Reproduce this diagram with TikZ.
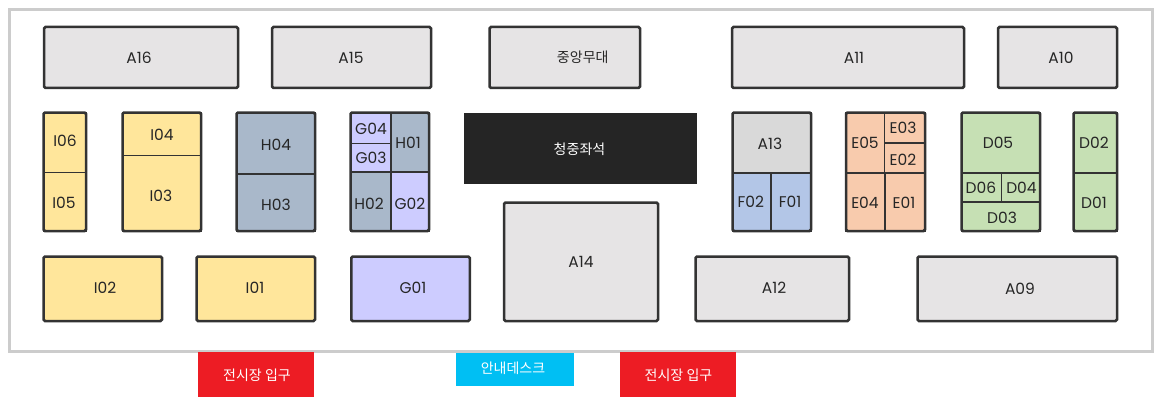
\documentclass[tikz,border=0pt]{standalone}
\usepackage{fontspec}
\usepackage{tikz}
\usetikzlibrary{positioning}
\setmainfont{Poppins}
\newfontfamily\korfont{Noto Sans CJK KR}
\definecolor{boothline}{HTML}{333333}
\definecolor{boothgray}{HTML}{E6E4E5}
\definecolor{darkgray}{HTML}{D9D9D9}
\definecolor{boothyellow}{HTML}{FFE69B}
\definecolor{boothslate}{HTML}{A9B8CA}
\definecolor{boothviolet}{HTML}{CDCCFF}
\definecolor{boothblue}{HTML}{B3C6E7}
\definecolor{boothorange}{HTML}{F8CBAD}
\definecolor{boothgreen}{HTML}{C6E0B4}
\definecolor{seatblack}{HTML}{252525}
\definecolor{gatered}{HTML}{ED1C24}
\definecolor{deskblue}{HTML}{00BFF3}

\begin{document}
\begin{tikzpicture}[x=1pt,y=-1pt,node distance=0pt,
                    booth/.style={rectangle,draw=boothline,line width=2pt,
                      inner sep=0pt,outer sep=0pt},
                    cell/.style={booth,line width=1.5pt},
                    stall/.style={booth,line width=2.5pt,rounded corners=1.5pt},
                    outline/.style={draw=boothline,line width=2.5pt,rounded corners=1.5pt},
                    tag/.style n args={3}{label={[shift={(#1,#2)},inner sep=0pt,text=black!85,
                      font=\fontsize{15.5}{18}\selectfont]center:#3}},
                    kortag/.style n args={4}{label={[shift={(#1,#2)},inner sep=0pt,text=#3,
                      font=\korfont\fontsize{14}{16}\selectfont]center:#4}},
                    sign/.style={rectangle,inner sep=0pt,outer sep=0pt}]

  \useasboundingbox (0,0) rectangle (1160,404);
  \fill[white] (0,0) rectangle (1160,404);
  \coordinate (hallnw) at (9.5,9.5);
  \coordinate (hallse) at (1152.5,351.5);
  \draw[black!20,line width=3pt] (hallnw) rectangle (hallse);

  % top row
  \node[stall,fill=boothgray,minimum width=194,minimum height=61,tag={-2}{0.5}{A16}] (a16) at (141,57.5) {};
  \node[stall,fill=boothgray,minimum width=159,minimum height=61,tag={-0.5}{0.5}{A15}] (a15) at (351.5,57.5) {};
  \node[stall,fill=boothgray,minimum width=150.5,minimum height=61,kortag={18}{-0.5}{black!85}{중앙무대}] (stage) at (564.75,57.5) {};
  \node[stall,fill=boothgray,minimum width=232,minimum height=61,tag={6}{0.5}{A11}] (a11) at (848,57.5) {};
  \node[stall,fill=boothgray,minimum width=119,minimum height=61,tag={3.5}{0.5}{A10}] (a10) at (1057.5,57.5) {};

  % left blocks
  \node[cell,fill=boothyellow,minimum width=42.5,minimum height=60,tag={0.25}{-1.5}{I06}] (i06) at (64.75,142.5) {};
  \node[cell,fill=boothyellow,minimum width=42.5,minimum height=58.5,tag={-0.75}{1.25}{I05}] (i05) [below=of i06] {};
  \draw[outline] (i06.north west) rectangle (i05.south east);
  \node[cell,fill=boothyellow,minimum width=78.5,minimum height=43,tag={0.25}{1}{I04}] (i04) at (161.75,134) {};
  \node[cell,fill=boothyellow,minimum width=78.5,minimum height=75.5,tag={-0.75}{2.75}{I03}] (i03) [below=of i04] {};
  \draw[outline] (i04.north west) rectangle (i03.south east);
  \node[cell,fill=boothslate,minimum width=78.5,minimum height=61.5,tag={0.25}{1.75}{H04}] (h04) at (275.75,143.25) {};
  \node[cell,fill=boothslate,minimum width=78.5,minimum height=57,tag={0.25}{2.5}{H03}] (h03) [below=of h04] {};
  \draw[outline] (h04.north west) rectangle (h03.south east);
  \node[cell,fill=boothviolet,minimum width=40.5,minimum height=31,tag={0.25}{1}{G04}] (g04) at (370.75,128) {};
  \node[cell,fill=boothviolet,minimum width=40.5,minimum height=28.5,tag={0.25}{0.25}{G03}] (g03) [below=of g04] {};
  \node[booth,fill=boothslate,minimum width=38,minimum height=59.5,anchor=north west,tag={-2}{0.75}{H01}] (h01) at (g04.north east) {};
  \node[booth,fill=boothslate,minimum width=40.5,minimum height=59,tag={-1.75}{2.5}{H02}] (h02) [below=of g03] {};
  \node[booth,fill=boothviolet,minimum width=38,minimum height=59,tag={0}{2.5}{G02}] (g02) [right=of h02] {};
  \draw[outline] (g04.north west) rectangle (g02.south east);

  % centre
  \node[sign,fill=seatblack,minimum width=233,minimum height=71,kortag={-1}{0.5}{white}{청중좌석}] (seats) at (580.5,148.5) {};
  \node[stall,fill=boothgray,minimum width=154,minimum height=118.5,tag={0}{0.25}{A14}] (a14) at (581,261.75) {};

  % right blocks
  \node[booth,fill=darkgray,minimum width=78.5,minimum height=60,tag={-1.75}{1.5}{A13}] (a13) at (771.75,142.5) {};
  \node[booth,fill=boothblue,minimum width=38.5,minimum height=58.5,anchor=north west,tag={-1}{0.25}{F02}] (f02) at (a13.south west) {};
  \node[booth,fill=boothblue,minimum width=40,minimum height=58.5,tag={-1}{0.25}{F01}] (f01) [right=of f02] {};
  \draw[outline] (a13.north west) rectangle (f01.south east);
  \node[cell,fill=boothorange,minimum width=38.5,minimum height=60.5,tag={-0.25}{0.25}{E05}] (e05) at (865.25,142.75) {};
  \node[cell,fill=boothorange,minimum width=40.5,minimum height=30.5,anchor=north west,tag={-1.75}{0.25}{E03}] (e03) at (e05.north east) {};
  \node[cell,fill=boothorange,minimum width=40.5,minimum height=30,tag={-1.75}{2}{E02}] (e02) [below=of e03] {};
  \node[booth,fill=boothorange,minimum width=38.5,minimum height=58,tag={-0.25}{1}{E04}] (e04) [below=of e05] {};
  \node[booth,fill=boothorange,minimum width=40.5,minimum height=58,tag={-0.75}{1}{E01}] (e01) [right=of e04] {};
  \draw[outline] (e05.north west) rectangle (e01.south east);
  \node[cell,fill=boothgreen,minimum width=78.5,minimum height=60.5,tag={-2.75}{0.25}{D05}] (d05) at (1000.75,142.75) {};
  \node[cell,fill=boothgreen,minimum width=40,minimum height=29,anchor=north west,tag={-0.5}{0.5}{D06}] (d06) at (d05.south west) {};
  \node[cell,fill=boothgreen,minimum width=38.5,minimum height=29,tag={0.75}{0.5}{D04}] (d04) [right=of d06] {};
  \node[cell,fill=boothgreen,minimum width=78.5,minimum height=29,anchor=north west,tag={1.25}{1.5}{D03}] (d03) at (d06.south west) {};
  \draw[outline] (d05.north west) rectangle (d03.south east);
  \node[cell,fill=boothgreen,minimum width=43.5,minimum height=60.5,tag={-1.25}{0.25}{D02}] (d02) at (1095.25,142.75) {};
  \node[cell,fill=boothgreen,minimum width=43.5,minimum height=58,tag={-1.25}{1}{D01}] (d01) [below=of d02] {};
  \draw[outline] (d02.north west) rectangle (d01.south east);

  % bottom row
  \node[stall,fill=boothyellow,minimum width=118.5,minimum height=64.5,tag={2.25}{-0.75}{I02}] (i02) at (102.75,288.75) {};
  \node[stall,fill=boothyellow,minimum width=118.5,minimum height=64.5,tag={-0.75}{-0.75}{I01}] (i01) at (255.75,288.75) {};
  \node[stall,fill=boothviolet,minimum width=118.5,minimum height=64.5,tag={2.5}{-0.75}{G01}] (g01) at (410.5,288.75) {};
  \node[stall,fill=boothgray,minimum width=153.5,minimum height=64.5,tag={1.75}{-0.75}{A12}] (a12) at (772.25,288.75) {};
  \node[stall,fill=boothgray,minimum width=199.5,minimum height=64.5,tag={2.75}{0.25}{A09}] (a09) at (1017.25,288.75) {};

  % entrances and desk
  \node[sign,fill=gatered,minimum width=116,minimum height=45,kortag={1}{0.5}{white}{전시장 입구}] (gate1) at (256,374.5) {};
  \node[sign,fill=deskblue,minimum width=118,minimum height=33,kortag={-2}{-1.5}{white}{안내데스크}] (desk) at (515,369.5) {};
  \node[sign,fill=gatered,minimum width=116,minimum height=45,kortag={0.5}{0.5}{white}{전시장 입구}] (gate2) at (678,374.5) {};
\end{tikzpicture}
\end{document}
